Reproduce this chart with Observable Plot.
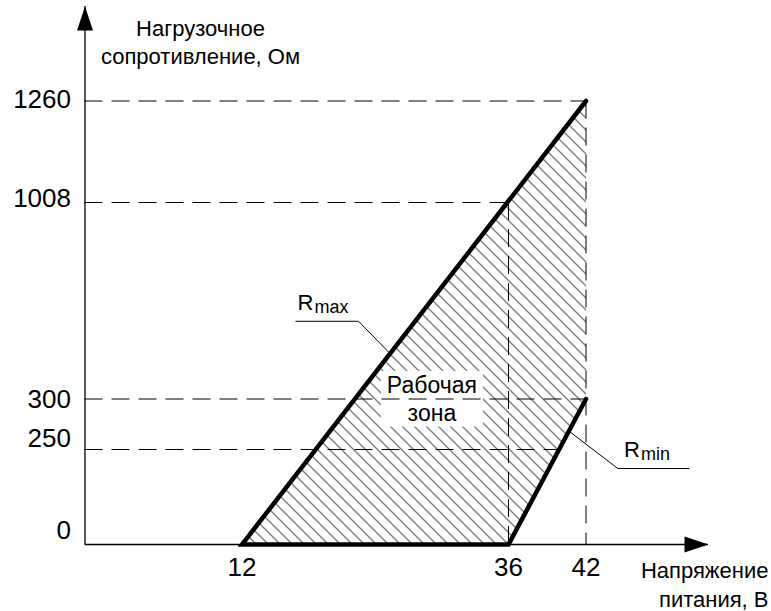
<!DOCTYPE html>
<html>
<head>
<meta charset="utf-8">
<script src="https://cdn.jsdelivr.net/npm/d3@7"></script>
<script src="https://cdn.jsdelivr.net/npm/@observablehq/plot@0.6"></script>
<style>
  html, body { margin: 0; padding: 0; background: #fff; }
  #chart { width: 771px; height: 611px; overflow: hidden; }
</style>
</head>
<body>
<div id="chart"></div>
<script>
// ---- data ----
const yTicks = [0, 250, 300, 1008, 1260];
const xTicks = [12, 36, 42];
const hGuideY = [1260, 1008, 300, 250];
const hGuideXEnd = [42, 36, 42, 40];
const vGuideX = [36, 42];
const vGuideYEnd = [1008, 1260];
const boundaryX = [42, 12, 36, 42];
const boundaryY = [1260, 0, 0, 300];
const zoneX = [12, 42, 42, 36];
const zoneY = [0, 1260, 300, 0];
const axisMaxX = 52;
const axisMaxY = 1500;
const rmaxLeaderX = [16.85, 22.5, 25.2];
const rmaxLeaderY = [580, 580, 469];
const rminLeaderX = [50.4, 44.6, 40.6];
const rminLeaderY = [200, 200, 269];
const rmaxLabel = {x: 17, y: 620};
const rminLabel = {x: 45.1, y: 229};
const zoneLabel = {x: 29.1, y: 304, text: "Рабочая\nзона"};
const yTitle = "Нагрузочное\nсопротивление, Ом";
const xTitle = "Напряжение\nпитания, В";

// ---- tables ----
const pts = (xs, ys) => xs.map((x, i) => ({x, y: ys[i]}));
const hGuides = hGuideY.map((y, i) => ({y, x2: hGuideXEnd[i]}));
const vGuides = vGuideX.map((x, i) => ({x, y2: vGuideYEnd[i]}));
const yTickDy = {0: -14, 250: -11, 300: 1, 1008: -4, 1260: -1};

const arrowHead = {
  draw(ctx) { ctx.moveTo(0, 0); ctx.lineTo(8, 24); ctx.lineTo(-8, 24); ctx.closePath(); }
};

const dash = "18,9";
const F = "Arial, 'Liberation Sans', sans-serif";
const ZONE_SENTINEL = "#fe0101";
const LABEL_SENTINEL = "#010102";

const svg = Plot.plot({
  width: 771,
  height: 611,
  marginTop: 0, marginRight: 0, marginBottom: 0, marginLeft: 0,
  style: {fontFamily: F, background: "white", color: "black"},
  x: {type: "linear", domain: [0, 12, 36, 42, axisMaxX], range: [84.5, 241.5, 508, 585.5, 708], axis: null},
  y: {type: "linear", domain: [0, 250, 300, 1008, 1260, axisMaxY], range: [544, 449, 398.5, 202, 100.5, 6], axis: null},
  marks: [
    Plot.line(pts(zoneX, zoneY), {x: "x", y: "y", fill: ZONE_SENTINEL, stroke: ZONE_SENTINEL, strokeWidth: 0}),
    Plot.ruleY(hGuides, {y: "y", x1: 0, x2: "x2", stroke: "black", strokeWidth: 1, strokeDasharray: dash}),
    Plot.ruleX(vGuides, {x: "x", y1: "y2", y2: 0, stroke: "black", strokeWidth: 1, strokeDasharray: dash}),
    Plot.ruleY([0], {x1: 0, x2: axisMaxX, stroke: "black", strokeWidth: 1.3}),
    Plot.ruleX([0], {y1: 0, y2: axisMaxY, stroke: "black", strokeWidth: 1.3}),
    Plot.line(pts(boundaryX, boundaryY), {x: "x", y: "y", stroke: "black", strokeWidth: 4.5,
      strokeLinejoin: "miter", strokeMiterlimit: 4, strokeLinecap: "round"}),
    Plot.dot([0], {x: 0, y: axisMaxY, symbol: arrowHead, fill: "black", stroke: "none"}),
    Plot.dot([0], {x: axisMaxX, y: 0, symbol: arrowHead, fill: "black", stroke: "none", rotate: 90}),
    Plot.line(pts(rmaxLeaderX, rmaxLeaderY), {x: "x", y: "y", stroke: "black", strokeWidth: 1, strokeLinejoin: "miter"}),
    Plot.line(pts(rminLeaderX, rminLeaderY), {x: "x", y: "y", stroke: "black", strokeWidth: 1, strokeLinejoin: "miter"}),
    // y tick labels
    ...yTicks.map(v => Plot.text([v], {x: 0, y: d => d, text: d => String(d), textAnchor: "end",
      dx: -14, dy: yTickDy[v], fontSize: 26, fill: "black"})),
    // x tick labels
    Plot.text(xTicks, {x: d => d, y: 0, text: d => String(d), textAnchor: "middle", dy: 23, fontSize: 26, fill: "black"}),
    // R labels
    Plot.text([rmaxLabel], {x: "x", y: "y", text: () => "R", textAnchor: "start", lineAnchor: "bottom", fontSize: 22, fill: "black"}),
    Plot.text([rmaxLabel], {x: "x", y: "y", text: () => "max", textAnchor: "start", lineAnchor: "bottom", dx: 17, dy: 3, fontSize: 18, fill: "black"}),
    Plot.text([rminLabel], {x: "x", y: "y", text: () => "R", textAnchor: "start", lineAnchor: "bottom", fontSize: 22, fill: "black"}),
    Plot.text([rminLabel], {x: "x", y: "y", text: () => "min", textAnchor: "start", lineAnchor: "bottom", dx: 17, dy: 3, fontSize: 18, fill: "black"}),
    // zone label
    Plot.text([zoneLabel], {x: "x", y: "y", text: "text", textAnchor: "middle", lineAnchor: "middle",
      lineHeight: 1.2, fontSize: 23, fill: LABEL_SENTINEL}),
    // axis titles
    Plot.text([yTitle], {frameAnchor: "top-left", dx: 200, dy: 15, textAnchor: "middle", lineAnchor: "top",
      lineHeight: 1.3, fontSize: 22, fill: "black"}),
    Plot.text([xTitle], {frameAnchor: "bottom-right", dx: -3, dy: -5, textAnchor: "end", lineAnchor: "bottom",
      lineHeight: 1.3, fontSize: 22, fill: "black"})
  ]
});

document.getElementById("chart").append(svg);

// hatch pattern
const NS = "http://www.w3.org/2000/svg";
const defs = document.createElementNS(NS, "defs");
const pat = document.createElementNS(NS, "pattern");
pat.setAttribute("id", "hatch-zone");
pat.setAttribute("patternUnits", "userSpaceOnUse");
pat.setAttribute("x", "0");
pat.setAttribute("y", "0");
pat.setAttribute("width", "12");
pat.setAttribute("height", "12");
const pp = document.createElementNS(NS, "path");
pp.setAttribute("d", "M-2,-2L14,14M-2,10L2,14M10,-2L14,2");
pp.setAttribute("stroke", "black");
pp.setAttribute("stroke-width", "1");
pp.setAttribute("fill", "none");
pp.setAttribute("shape-rendering", "crispEdges");
pat.appendChild(pp);
defs.appendChild(pat);
svg.insertBefore(defs, svg.firstChild);

// find zone by sentinel colour and apply hatch
let zoneG = null;
svg.querySelectorAll("*").forEach(el => {
  const f = (el.getAttribute("fill") || "").toLowerCase();
  if (f === ZONE_SENTINEL) {
    el.setAttribute("fill", "url(#hatch-zone)");
    if (el.tagName.toLowerCase() === "g" && !zoneG) zoneG = el;
  }
  const s = (el.getAttribute("stroke") || "").toLowerCase();
  if (s === ZONE_SENTINEL) el.setAttribute("stroke", "none");
});

// white box behind zone label
let labG = null;
svg.querySelectorAll("g").forEach(el => {
  if ((el.getAttribute("fill") || "").toLowerCase() === LABEL_SENTINEL) { labG = el; el.setAttribute("fill", "black"); }
});
if (labG) {
  const sr = svg.getBoundingClientRect();
  const b = labG.getBoundingClientRect();
  const r = document.createElementNS(NS, "rect");
  r.setAttribute("x", b.left - sr.left - 6);
  r.setAttribute("y", b.top - sr.top - 1);
  r.setAttribute("width", b.width + 12);
  r.setAttribute("height", b.height + 2);
  r.setAttribute("fill", "white");
  const anchor = zoneG || svg.querySelector("defs");
  anchor.after(r);
}
</script>
</body>
</html>
